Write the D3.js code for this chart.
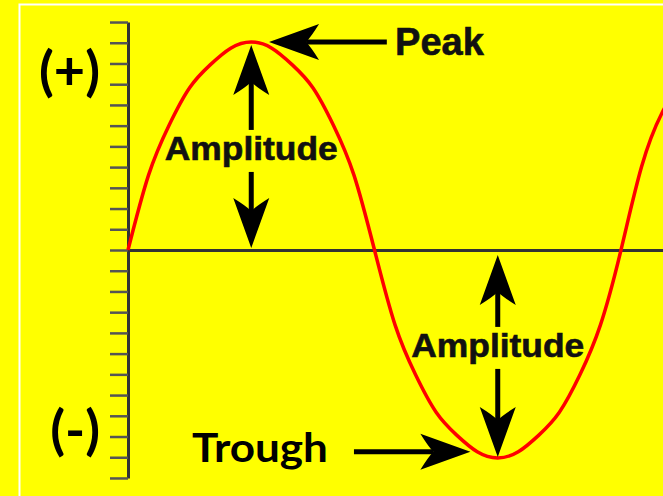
<!DOCTYPE html>
<html lang="en">
<head>
<meta charset="UTF-8">
<title>Wave: Peak, Trough, Amplitude</title>
<script src="https://d3js.org/d3.v7.min.js"></script>
<style>
  body { margin: 0; background: #ffff00; }
  svg { display: block; }
  .axis .domain { stroke: #333; stroke-width: 3; }
  .axis .tick line { stroke: #555; stroke-width: 2.5; }
  .label { font-family: "Liberation Sans", Arial, sans-serif; font-weight: bold; fill: #111; stroke: #111; stroke-width: 0.6; }
  .big { font-family: Lato, "Open Sans", sans-serif; font-weight: bold; fill: #000; }
</style>
</head>
<body>
<div id="chart"></div>
<script>
// wave: phase in degrees, displacement in amplitude units
const wavePhase = [0, 15, 30, 45, 60, 75, 90, 105, 120, 135, 150, 165, 180,
                   195, 210, 225, 240, 255, 270, 285, 300, 315, 330, 345, 360,
                   375, 390, 405];
const waveValue = [0, 0.36, 0.60, 0.78, 0.89, 0.97, 1, 0.97, 0.89, 0.78, 0.60, 0.36, 0,
                   -0.36, -0.60, -0.78, -0.89, -0.97, -1, -0.97, -0.89, -0.78, -0.60, -0.36, 0,
                   0.40, 0.66, 0.82];
const axisSteps = d3.range(-11, 12);   // 23 tick marks on the vertical axis
const signLabels = ["(+)", "(-)"];
const signValues = [0.77, -0.955];
const peakText = "Peak";
const troughText = "Trough";
const amplitudeText = "Amplitude";

const width = 663, height = 496;
const svg = d3.select("#chart").append("svg")
    .attr("width", width)
    .attr("height", height);

svg.append("rect").attr("width", width).attr("height", height).attr("fill", "#ffff00");

// thin white frame at top and left
svg.append("path")
    .attr("d", `M19.5,${height}V4.5H${width}`)
    .attr("fill", "none")
    .attr("stroke", "#fff")
    .attr("stroke-width", 2);

const x = d3.scaleLinear().domain([0, 360]).range([128, 621]);
const y = d3.scaleLinear().domain([-1, 1]).range([458, 42]);

// vertical axis with ticks
const tickScale = d3.scaleLinear().domain([-11, 11]).range([y(-1.096), y(1.096)]);
svg.append("g")
    .attr("class", "axis")
    .attr("transform", `translate(${x(0)},0)`)
    .call(d3.axisLeft(tickScale).tickValues(axisSteps).tickSize(18).tickSizeOuter(0).tickFormat(""));

// horizontal axis
const xAxisScale = x.copy().domain([0, x.invert(width)]).range([x(0), width]);
svg.append("g")
    .attr("class", "axis")
    .attr("transform", `translate(0,${y(0)})`)
    .call(d3.axisBottom(xAxisScale).tickValues([]).tickSizeOuter(0));

// the wave
const line = d3.line()
    .x((d, i) => x(wavePhase[i]))
    .y(d => y(d))
    .curve(d3.curveNatural);

svg.append("path")
    .datum(waveValue)
    .attr("d", line)
    .attr("fill", "none")
    .attr("stroke", "#ff0000")
    .attr("stroke-width", 3.5);

// arrow helpers
const headLen = 50, headHalf = 18, notch = 13;
function arrowHead(tx, ty, angle) {
    svg.append("path")
        .attr("d", `M0,0L${-headLen},${-headHalf}Q${-headLen + notch * 0.6},${-headHalf * 0.3} ${-headLen + notch},0Q${-headLen + notch * 0.6},${headHalf * 0.3} ${-headLen},${headHalf}Z`)
        .attr("transform", `translate(${tx},${ty}) rotate(${angle})`)
        .attr("fill", "#000");
}
function shaft(x1, y1, x2, y2) {
    svg.append("line")
        .attr("x1", x1).attr("y1", y1).attr("x2", x2).attr("y2", y2)
        .attr("stroke", "#000").attr("stroke-width", 5);
}

// Peak arrow (pointing left)
const peakTip = [x(103), y(1)];
const peakTail = x(189);
shaft(peakTip[0] + headLen - notch, peakTip[1], peakTail, peakTip[1]);
arrowHead(peakTip[0], peakTip[1], 180);
svg.append("text").attr("class", "label")
    .attr("x", x(195)).attr("y", y(0.9375))
    .attr("font-size", 38)
    .text(peakText);

// Trough arrow (pointing right)
const troughTip = [x(250), y(-0.97)];
const troughTail = x(165);
shaft(troughTail, troughTip[1], troughTip[0] - headLen + notch, troughTip[1]);
arrowHead(troughTip[0], troughTip[1], 0);
svg.append("text").attr("class", "big")
    .attr("x", x(146)).attr("y", y(-1.02))
    .attr("text-anchor", "end")
    .attr("font-size", 41)
    .attr("textLength", 136).attr("lengthAdjust", "spacingAndGlyphs")
    .text(troughText);

// Amplitude arrows (double headed, broken by the label)
function amplitude(phase, topY, botY, baseY) {
    const cx = x(phase);
    const gapTop = baseY - 30, gapBot = baseY + 12;
    arrowHead(cx, topY, -90);
    arrowHead(cx, botY, 90);
    shaft(cx, topY + headLen - notch, cx, gapTop);
    shaft(cx, gapBot, cx, botY - headLen + notch);
    svg.append("text").attr("class", "label")
        .attr("x", cx).attr("y", baseY)
        .attr("text-anchor", "middle")
        .attr("font-size", 33)
        .attr("textLength", 173).attr("lengthAdjust", "spacingAndGlyphs")
        .text(amplitudeText);
}
amplitude(90, y(1) + 3, y(0) - 2, y(0.433));
amplitude(270, y(0) + 5, y(-1) - 1, y(-0.514));

// (+) / (-) markers
svg.selectAll(".sign")
    .data(signLabels)
    .enter().append("text")
    .attr("class", "big sign")
    .attr("x", 100)
    .attr("y", (d, i) => y(signValues[i]))
    .attr("text-anchor", "end")
    .attr("font-size", 54)
    .text(d => d);
</script>
</body>
</html>
